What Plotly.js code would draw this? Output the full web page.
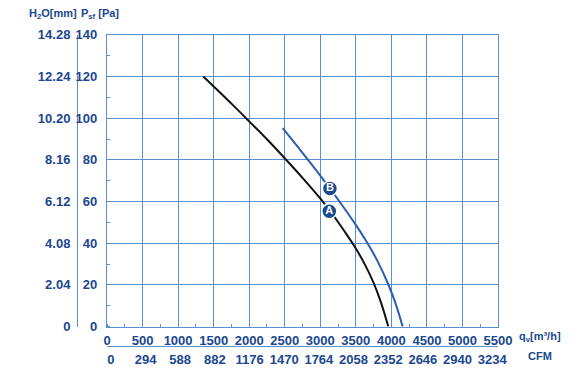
<!DOCTYPE html>
<html><head><meta charset="utf-8">
<script src="https://cdn.plot.ly/plotly-3.0.1.min.js"></script>
<style>html,body{margin:0;padding:0;background:#fff}#c{width:581px;height:374px}</style>
</head><body><div id="c"></div>
<script>
// Curve A (black)
const qA = [1354, 1750, 2000, 2250, 2500, 2750, 3000, 3125, 3250, 3375, 3500, 3625, 3750, 3850, 3957];
const pA = [120, 107, 98.5, 89.9, 80.8, 71.4, 61.5, 56.0, 50.2, 44.0, 37.5, 30.0, 21.0, 12.0, 0];
// Curve B (blue)
const qB = [2471, 2750, 3000, 3250, 3500, 3650, 3800, 3950, 4060, 4159];
const pB = [95.2, 83.4, 72.5, 61.0, 48.8, 40.8, 31.8, 20.8, 11.0, 0];
// Curve labels
const labelNames = ["A", "B"];
const labelQ = [3127, 3136];
const labelP = [55.4, 66.3];
// Axis ticks
const qTicks = [0, 500, 1000, 1500, 2000, 2500, 3000, 3500, 4000, 4500, 5000, 5500];
const cfmText = ["0", "294", "588", "882", "1176", "1470", "1764", "2058", "2352", "2646", "2940", "3234"];
const paTicks = [0, 20, 40, 60, 80, 100, 120, 140];
const mmTicks = [0, 2.04, 4.08, 6.12, 8.16, 10.20, 12.24, 14.28];
const mmText = ["0", "2.04", "4.08", "6.12", "8.16", "10.20", "12.24", "14.28"];

const W = 581, H = 374, MT = 10, MB = 10;
const PH = H - MT - MB;
const py = v => (H - MB - v) / PH;
const px = v => v / W;
const navy = "#1a4790";
const grid = "#5a8fd2";
const FAM = "Liberation Sans, Arial, sans-serif";
const font = {family: FAM, size: 13, color: navy, weight: "bold"};
const small = {family: FAM, size: 11, color: navy, weight: "bold"};

const traces = [
  {x: qA, y: pA, type: "scatter", mode: "lines", line: {color: "#111", width: 2, shape: "spline", smoothing: 1}, hoverinfo: "skip", xaxis: "x", yaxis: "y"},
  {x: qB, y: pB, type: "scatter", mode: "lines", line: {color: "#2a5fae", width: 2, shape: "spline", smoothing: 1}, hoverinfo: "skip", xaxis: "x", yaxis: "y"},
  {x: labelQ, y: labelP, text: labelNames, type: "scatter", mode: "markers+text", textposition: "middle center",
   marker: {size: 15, color: "#1b4b8f", line: {color: "#fff", width: 1.5}},
   textfont: {family: FAM, size: 11, color: "#fff", weight: "bold"}, hoverinfo: "skip", xaxis: "x", yaxis: "y"},
  {x: [0], y: [0], type: "scatter", mode: "markers", marker: {opacity: 0}, hoverinfo: "skip", xaxis: "x2", yaxis: "y"},
  {x: [0], y: [0], type: "scatter", mode: "markers", marker: {opacity: 0}, hoverinfo: "skip", xaxis: "x", yaxis: "y2"}
];

const yDom = [py(326.6), py(34.9)];
const layout = {
  width: W, height: H,
  margin: {l: 0, r: 0, t: MT, b: MB},
  paper_bgcolor: "#fff", plot_bgcolor: "#fff",
  showlegend: false,
  font: font,
  xaxis: {
    domain: [px(107), px(498)], range: [0, 5500], anchor: "y",
    tickvals: qTicks, ticktext: qTicks.map(String),
    showgrid: true, gridcolor: grid, gridwidth: 1,
    showline: true, linecolor: grid, linewidth: 1.2, mirror: true,
    ticks: "", ticklabelstandoff: 2, tickfont: font, zeroline: false,
    minor: {dtick: 250, ticks: "inside", ticklen: 3, tickcolor: grid, showgrid: false}
  },
  xaxis2: {
    domain: [px(103), px(505)], range: [-56, 5584], overlaying: "x", anchor: "free", position: py(346),
    side: "bottom",
    tickvals: qTicks, ticktext: cfmText,
    showgrid: false, showline: true, linecolor: grid, linewidth: 1.2,
    ticks: "", tickfont: font, zeroline: false, ticklabelstandoff: 1
  },
  yaxis: {
    domain: yDom, range: [0, 140], anchor: "x",
    tickvals: paTicks, ticktext: paTicks.map(String),
    showgrid: true, gridcolor: grid, gridwidth: 1,
    showline: true, linecolor: grid, linewidth: 1.2, mirror: true,
    ticks: "", tickfont: font, zeroline: false, ticklabelstandoff: 6,
    minor: {dtick: 10, ticks: "inside", ticklen: 3, tickcolor: grid, showgrid: false}
  },
  yaxis2: {
    domain: yDom, range: [0, 14.28], overlaying: "y", anchor: "free", position: px(77), side: "left",
    tickvals: mmTicks, ticktext: mmText,
    showgrid: false, showline: true, linecolor: grid, linewidth: 1.2,
    ticks: "", tickfont: font, zeroline: false, ticklabelstandoff: 4
  },
  annotations: [
    {text: "H<sub>2</sub>O[mm]", xref: "paper", yref: "paper", x: px(27), y: py(14), xanchor: "left", yanchor: "middle", showarrow: false, font: small},
    {text: "P<sub>sf</sub> [Pa]", xref: "paper", yref: "paper", x: px(79), y: py(14), xanchor: "left", yanchor: "middle", showarrow: false, font: small},
    {text: "q<sub>v</sub>[m³/h]", xref: "paper", yref: "paper", x: px(517), y: py(337), xanchor: "left", yanchor: "middle", showarrow: false, font: small},
    {text: "CFM", xref: "paper", yref: "paper", x: px(526), y: py(356), xanchor: "left", yanchor: "middle", showarrow: false, font: small}
  ]
};
Plotly.newPlot("c", traces, layout, {staticPlot: true, displayModeBar: false});
</script>
</body></html>
